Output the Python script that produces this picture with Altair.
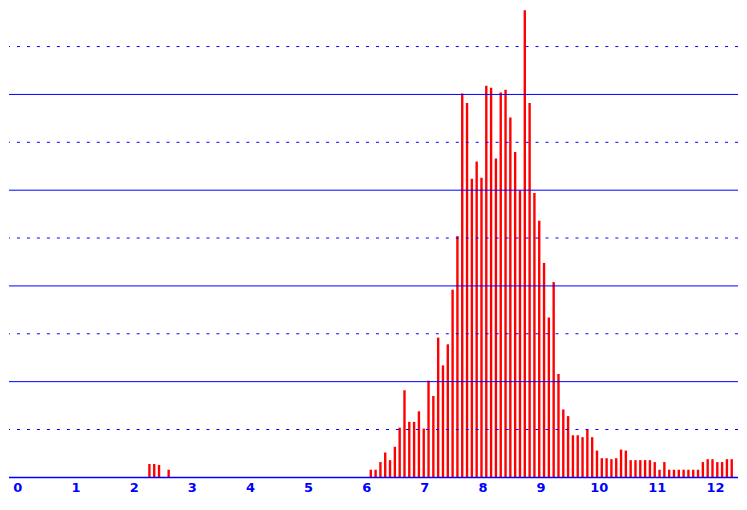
import altair as alt
import pandas as pd

# bar heights (in reference grid units: 50 per gridline step), one per bin
X_START = 2.2715
X_STEP = 0.08278
heights = [
    14, 14, 13, 0, 8, 0, 0, 0, 0, 0,
    0, 0, 0, 0, 0, 0, 0, 0, 0, 0,
    0, 0, 0, 0, 0, 0, 0, 0, 0, 0,
    0, 0, 0, 0, 0, 0, 0, 0, 0, 0,
    0, 0, 0, 0, 0, 0, 8, 8, 16, 26,
    18, 32, 52, 91, 58, 58, 69, 51, 101, 85,
    146, 117, 139, 196, 252, 401, 391, 312, 330, 313,
    409, 407, 333, 402, 405, 376, 340, 300, 488, 391,
    297, 268, 224, 167, 204, 108, 71, 64, 44, 44,
    42, 50, 42, 28, 20, 20, 19, 20, 29, 28,
    18, 18, 18, 18, 18, 16, 8, 16, 8, 8,
    8, 8, 8, 8, 8, 16, 19, 19, 16, 16,
    19, 19,
]
x_ticks = list(range(13))
solid_levels = [100, 200, 300, 400]
dashed_levels = [50, 150, 250, 350, 450]
base_level = [0]

df = pd.DataFrame({
    "x": [X_START + i * X_STEP for i in range(len(heights))],
    "h": heights,
})
df = df[df["h"] > 0]

BLUE = "#0000ff"
RED = "#ff0000"

xscale = alt.Scale(domain=[-0.058, 12.31], nice=False, zero=False)
yscale = alt.Scale(domain=[0, 489.6], nice=False, zero=True)

bars = alt.Chart(df).mark_bar(size=2.4, color=RED).encode(
    x=alt.X(
        "x:Q",
        scale=xscale,
        axis=alt.Axis(
            values=x_ticks,
            title=None,
            grid=False,
            ticks=False,
            domain=False,
            labelColor=BLUE,
            labelFont="DejaVu Sans",
            labelFontWeight="bold",
            labelFontSize=13,
            labelPadding=4,
            labelFlush=False,
            format="d",
        ),
    ),
    y=alt.Y("h:Q", scale=yscale, axis=None),
)

solid = alt.Chart(pd.DataFrame({"y": solid_levels})).mark_rule(
    color=BLUE, strokeWidth=1
).encode(y=alt.Y("y:Q", scale=yscale, axis=None))

dashed = alt.Chart(pd.DataFrame({"y": dashed_levels})).mark_rule(
    color=BLUE, strokeWidth=1, strokeDash=[3, 7]
).encode(y=alt.Y("y:Q", scale=yscale, axis=None))

base = alt.Chart(pd.DataFrame({"y": base_level})).mark_rule(
    color=BLUE, strokeWidth=1.5
).encode(y=alt.Y("y:Q", scale=yscale, axis=None))

chart = (
    alt.layer(bars, solid, dashed, base)
    .properties(width=731, height=470, padding=0, background="white")
    .configure_view(stroke=None)
)

chart.save("out.html", embed_options={"renderer": "svg", "actions": False})
